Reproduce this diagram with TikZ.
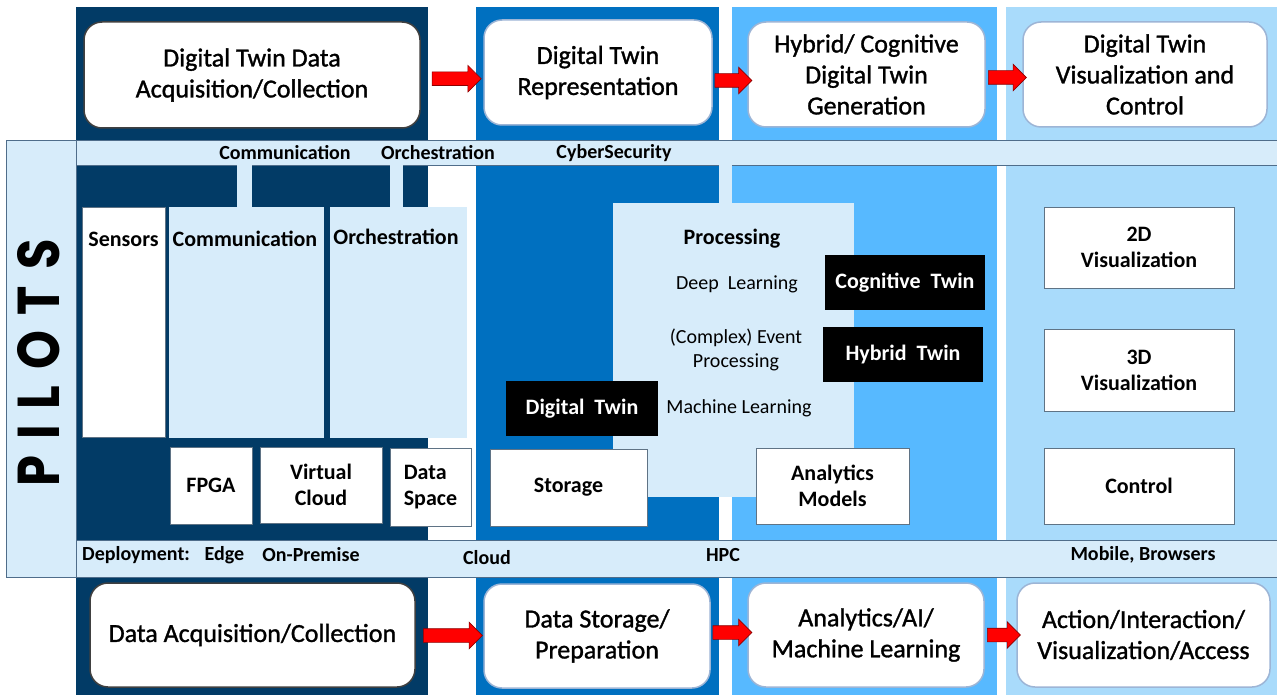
\documentclass[tikz,border=0pt]{standalone}
\usepackage{fontspec}
\usepackage{graphicx}
\setmainfont{Carlito}
\newfontfamily\pilotfont{Poppins}
\newfontfamily\titlefont[FakeBold=1.2]{Carlito}
\usetikzlibrary{shapes.arrows}
\definecolor{cone}{HTML}{023B66}
\definecolor{ctwo}{HTML}{0070C0}
\definecolor{cthree}{HTML}{57B9FF}
\definecolor{cfour}{HTML}{A9DBFB}
\definecolor{band}{HTML}{D7ECFA}
\definecolor{bandline}{HTML}{4F6D8A}
\definecolor{boxline}{HTML}{5F7385}
\definecolor{softline}{HTML}{9DB5D6}
\definecolor{arrred}{HTML}{FF0000}
\begin{document}
\begin{tikzpicture}[x=1pt,y=-1pt,
  tbox/.style={rectangle, rounded corners=18, fill=white, draw=softline, line width=1.5,
    align=center, inner sep=0, font=\titlefont\fontsize{26}{31}\selectfont},
  tboxdark/.style={tbox, draw=black!75},
  wbox/.style={rectangle, fill=white, draw=boxline, line width=0.9, inner sep=0,
    align=center, font=\bfseries\fontsize{22}{26}\selectfont},
  lbox/.style={rectangle, fill=band, inner sep=0},
  kbox/.style={rectangle, fill=black, inner sep=0, text=white,
    font=\bfseries\fontsize{22}{26}\selectfont},
  lbl/.style={inner sep=0, align=center, font=\bfseries\fontsize{22}{26}\selectfont},
  slbl/.style={inner sep=0, font=\bfseries\fontsize{20}{24}\selectfont},
  reg/.style={inner sep=0, align=center, font=\fontsize{20}{24}\selectfont},
  redarrow/.style={single arrow, fill=arrred, draw=red!55!black, line width=0.6,
    single arrow head extend=6.5, inner xsep=0, inner ysep=6.5, outer sep=0,
    minimum width=0, font=\fontsize{1}{1}\selectfont}
]
\useasboundingbox (0,0) rectangle (1277,695);
% columns
\fill[cone]  (76,7) rectangle (428,695);
\fill[ctwo]  (476,7) rectangle (719,695);
\fill[cthree](732,7) rectangle (997,695);
\fill[cfour] (1006,7) rectangle (1277,695);
% pilot band
\filldraw[fill=band, draw=bandline, line width=0.8] (6,140) rectangle (76,577);
\filldraw[fill=band, draw=bandline, line width=0.8] (76,140) rectangle (1277,165);
\filldraw[fill=band, draw=bandline, line width=0.8] (76,540) rectangle (1277,577);
% connectors from the top strip
\fill[band] (237,165.4) rectangle (252,208);
\fill[band] (390,165.4) rectangle (403,208);
\fill[band] (719,165.4) rectangle (732,204);
% PILOTS
\node[rotate=90, inner sep=0] (pil) at (39,363)
  {\resizebox{247pt}{42pt}{\pilotfont\bfseries P\hspace{.32em}I\hspace{.32em}L\hspace{.32em}O\hspace{.32em}T\hspace{.32em}S}};
% strip labels
\node[slbl] (sc1) at (285,153) {Communication};
\node[slbl] (sc2) at (438,153) {Orchestration};
\node[slbl] (sc3) at (614,153) {CyberSecurity};
\node[slbl, anchor=west] (d1) at (82,555) {Deployment:};
\node[slbl] (d2) at (224.5,555) {Edge};
\node[slbl] (d3) at (311,555) {On-Premise};
\node[slbl] (d4) at (487,558) {Cloud};
\node[slbl] (d5) at (723,555) {HPC};
\node[slbl] (d6) at (1143,555) {Mobile,\ Browsers};
% top row boxes
\node[tboxdark, minimum width=336, minimum height=106] (t1) at (252,75) {Digital Twin Data\\Acquisition/Collection};
\node[tbox, minimum width=228, minimum height=105] (t2) at (598,72.5) {Digital Twin\\Representation};
\node[tbox, minimum width=237, minimum height=105] (t3) at (866.5,74.5) {Hybrid/ Cognitive\\Digital Twin\\Generation};
\node[tbox, minimum width=244, minimum height=105] (t4) at (1145,74.5) {Digital Twin\\Visualization and\\Control};
% bottom row boxes
\node[tboxdark, minimum width=325, minimum height=104] (b1) at (252.5,635) {Data Acquisition/Collection};
\node[tbox, minimum width=226, minimum height=104] (b2) at (597,636) {Data Storage/\\Preparation};
\node[tbox, minimum width=236, minimum height=104] (b3) at (866,635) {Analytics/AI/\\Machine Learning};
\node[tbox, minimum width=253, minimum height=104] (b4) at (1143.5,635) {Action/Interaction/\\Visualization/Access};
% red arrows
\path (t1.east) -- (t2.west) node[redarrow, pos=0.52, yshift=-5, minimum height=49] (a1) {};
\path (t2.east) -- (t3.west) node[redarrow, midway, yshift=-7, minimum height=37] (a2) {};
\path (t3.east) -- (t4.west) node[redarrow, midway, yshift=-3, minimum height=38] (a3) {};
\path (b1.east) -- (b2.west) node[redarrow, midway, yshift=0, minimum height=59] (a4) {};
\path (b2.east) -- (b3.west) node[redarrow, midway, yshift=3, minimum height=39] (a5) {};
\path (b3.east) -- (b4.west) node[redarrow, midway, yshift=0, minimum height=33] (a6) {};
% column 1 content
\node[wbox, minimum width=83, minimum height=230] (sens) at (123.5,322) {};
\node[lbl] at (123.5,239) {Sensors};
\node[lbox, minimum width=155, minimum height=231] (comm) at (246.5,322.5) {};
\node[lbl] at (245,239) {Communication};
\node[lbox, minimum width=137, minimum height=231] (orch) at (398.5,322.5) {};
\node[lbl] at (396,237) {Orchestration};
\node[wbox, minimum width=82, minimum height=77] (fpga) at (211,485.5) {FPGA};
\node[wbox, minimum width=122, minimum height=76] (vc) at (321,485) {Virtual\\Cloud};
\node[wbox, minimum width=81, minimum height=78, align=left] (ds) at (430.5,487) {Data\\Space};
% processing
\node[lbox, minimum width=241, minimum height=294] (proc) at (733.5,350) {};
\node[lbl] at (732,239) {Processing};
\node[reg] at (737,284) {Deep\ \ Learning};
\node[reg] at (736,350) {(Complex) Event\\Processing};
\node[reg] at (739,408) {Machine Learning};
\node[kbox, minimum width=160, minimum height=55] (cog) at (905,282.5) {Cognitive\ \ Twin};
\node[kbox, minimum width=160, minimum height=55] (hyb) at (903,354.5) {Hybrid\ \ Twin};
\node[kbox, minimum width=152, minimum height=55] (dt) at (582,408.5) {Digital\ \ Twin};
\node[wbox, minimum width=157, minimum height=77] (stor) at (568.5,487.5) {Storage};
\node[wbox, minimum width=153, minimum height=76] (anm) at (832.5,486) {Analytics\\Models};
% column 4 content
\node[wbox, minimum width=190, minimum height=81] (v2d) at (1139,247.5) {2D\\Visualization};
\node[wbox, minimum width=190, minimum height=82] (v3d) at (1139,370) {3D\\Visualization};
\node[wbox, minimum width=190, minimum height=76] (ctl) at (1139,486) {Control};
\end{tikzpicture}
\end{document}
